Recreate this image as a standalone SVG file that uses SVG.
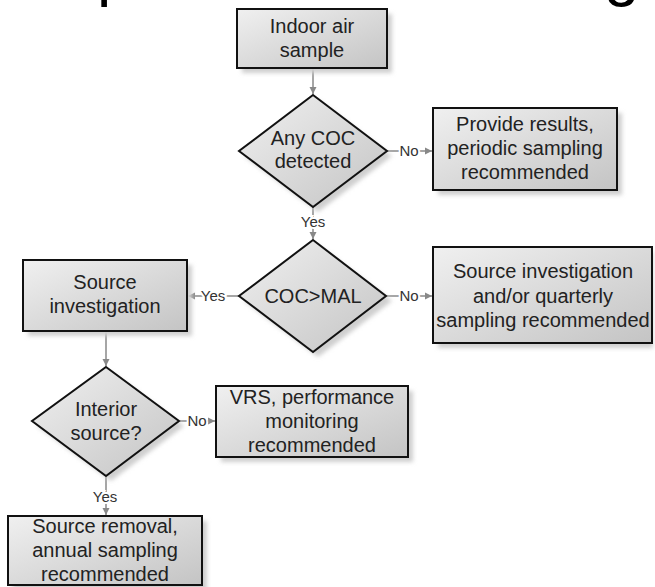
<svg xmlns="http://www.w3.org/2000/svg" width="655" height="587" viewBox="0 0 655 587">
<defs>
<linearGradient id="g" x1="0" y1="0" x2="1" y2="1">
<stop offset="0" stop-color="#f0f0f0"/>
<stop offset="1" stop-color="#c4c4c4"/>
</linearGradient>
<filter id="sh" x="-10%" y="-10%" width="130%" height="130%">
<feGaussianBlur stdDeviation="2"/>
</filter>
<marker id="ah" markerWidth="8" markerHeight="8" refX="7" refY="4" orient="auto" markerUnits="userSpaceOnUse">
<path d="M0,0.5 L7,4 L0,7.5 Z" fill="#888"/>
</marker>
<style>
.shape{fill:url(#g);stroke:#111;stroke-width:2}
.shadow{fill:#cfcfcf;filter:url(#sh)}
.t{font-family:"Liberation Sans",Arial,sans-serif;font-size:20px;fill:#222;text-anchor:middle}
.lbl{font-family:"Liberation Sans",Arial,sans-serif;font-size:15px;fill:#333;text-anchor:middle;stroke:#fff;stroke-width:4;paint-order:stroke}
.c{fill:none;stroke:#888;stroke-width:1.5}
.title{font-family:"Liberation Sans",Arial,sans-serif;font-size:64px;fill:#000}
</style>
</defs>
<rect width="655" height="587" fill="#fff"/>
<g id="title-fragment">
<text class="title" x="97" y="-6">p</text>
<text class="title" x="604" y="-6">g</text>
</g>
<g id="connectors">
<path class="c" d="M313,68 V94" marker-end="url(#ah)"/>
<path class="c" d="M387,151 H432" marker-end="url(#ah)"/>
<path class="c" d="M313,207 V239" marker-end="url(#ah)"/>
<path class="c" d="M239,296 H188" marker-end="url(#ah)"/>
<path class="c" d="M386,296 H432" marker-end="url(#ah)"/>
<path class="c" d="M106,331 V366" marker-end="url(#ah)"/>
<path class="c" d="M180,421 H215" marker-end="url(#ah)"/>
<path class="c" d="M106,477 V515" marker-end="url(#ah)"/>
<text class="lbl" x="409" y="156">No</text>
<text class="lbl" x="313" y="227">Yes</text>
<text class="lbl" x="213" y="301">Yes</text>
<text class="lbl" x="409" y="301">No</text>
<text class="lbl" x="197" y="426">No</text>
<text class="lbl" x="105" y="502">Yes</text>
</g>
<g id="n-indoor">
<rect class="shadow" x="242" y="14" width="150" height="59"/>
<rect class="shape" x="237" y="9" width="150" height="59"/>
<text class="t" x="312" y="33">Indoor air</text>
<text class="t" x="312" y="57">sample</text>
</g>
<g id="n-anycoc">
<path class="shadow" d="M318,100 L392,156 L318,212 L244,156 Z"/>
<path class="shape" d="M313,95 L387,151 L313,207 L239,151 Z"/>
<text class="t" x="313" y="145">Any COC</text>
<text class="t" x="313" y="168">detected</text>
</g>
<g id="n-provide">
<rect class="shadow" x="438" y="113" width="184" height="82"/>
<rect class="shape" x="433" y="108" width="184" height="82"/>
<text class="t" x="525" y="131">Provide results,</text>
<text class="t" x="525" y="155">periodic sampling</text>
<text class="t" x="525" y="179">recommended</text>
</g>
<g id="n-cocmal">
<path class="shadow" d="M318,245 L392,301 L318,357 L244,301 Z"/>
<path class="shape" d="M313,240 L386,296 L313,352 L239,296 Z"/>
<text class="t" x="313" y="303">COC&gt;MAL</text>
</g>
<g id="n-srcinv">
<rect class="shadow" x="28" y="265" width="164" height="71"/>
<rect class="shape" x="23" y="260" width="164" height="71"/>
<text class="t" x="105" y="289">Source</text>
<text class="t" x="105" y="313">investigation</text>
</g>
<g id="n-srcinv-quarterly">
<rect class="shadow" x="438" y="252" width="215" height="96"/>
<rect class="shape" x="433" y="247" width="219" height="96"/>
<text class="t" x="543" y="278">Source investigation</text>
<text class="t" x="543" y="303">and/or quarterly</text>
<text class="t" x="543" y="327">sampling recommended</text>
</g>
<g id="n-interior">
<path class="shadow" d="M111,372 L184,426 L111,481 L37,426 Z"/>
<path class="shape" d="M106,367 L179,421 L106,476 L32,421 Z"/>
<text class="t" x="106" y="416">Interior</text>
<text class="t" x="106" y="440">source?</text>
</g>
<g id="n-vrs">
<rect class="shadow" x="221" y="391" width="192" height="71"/>
<rect class="shape" x="216" y="386" width="192" height="71"/>
<text class="t" x="312" y="404">VRS, performance</text>
<text class="t" x="312" y="428">monitoring</text>
<text class="t" x="312" y="452">recommended</text>
</g>
<g id="n-removal">
<rect class="shadow" x="13" y="521" width="194" height="70"/>
<rect class="shape" x="8" y="516" width="194" height="69"/>
<text class="t" x="105" y="533">Source removal,</text>
<text class="t" x="105" y="557">annual sampling</text>
<text class="t" x="105" y="581">recommended</text>
</g>
</svg>
